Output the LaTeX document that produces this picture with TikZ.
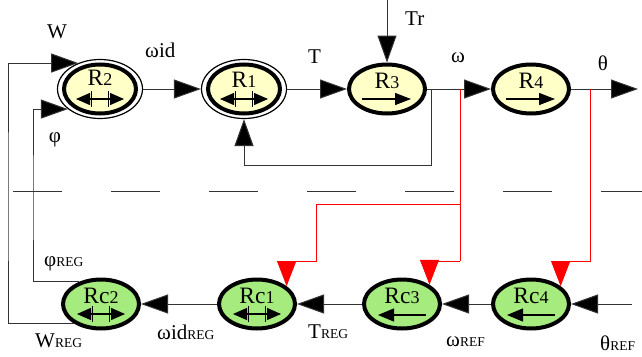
\documentclass[tikz,border=0pt]{standalone}
\usepackage{fontspec}
\setmainfont{Liberation Serif}
\usetikzlibrary{arrows.meta,shapes.geometric,calc}
\definecolor{yfill}{RGB}{255,255,200}
\definecolor{gfill}{RGB}{165,235,125}
\newcommand\lblf{\fontsize{21}{21}\selectfont}
\newcommand\sbf{\fontsize{13.5}{13.5}\selectfont}
\newcommand\rtf{\fontsize{23.5}{23.5}\selectfont}
\newcommand\rnf{\fontsize{18}{18}\selectfont}
\newcommand\symdbl[1]{%
  \draw[symln,{Triangle[length=14pt,width=12pt]}-{Triangle[length=14pt,width=12pt]}] ($(#1.center)+(-24,10)$) -- ($(#1.center)+(24,10)$);
  \draw[symln] ($(#1.center)+(-8.5,2)$) -- ($(#1.center)+(-8.5,18)$) ($(#1.center)+(8.5,2)$) -- ($(#1.center)+(8.5,18)$);}
\newcommand\symright[1]{%
  \draw[symln,-{Triangle[length=16pt,width=12pt]}] ($(#1.center)+(-25,10)$) -- ($(#1.center)+(24,10)$);}
\newcommand\symleft[1]{%
  \draw[symln,{Triangle[length=16pt,width=13pt]}-] ($(#1.center)+(-24,11)$) -- ($(#1.center)+(24,11)$);}
\begin{document}
\begin{tikzpicture}[x=1pt,y=-1pt,
  conn/.style={draw=black!80, line width=1pt, -{Triangle[length=27pt,width=19pt,fill=black]}},
  redconn/.style={draw=red, line width=1pt, -{Triangle[length=25pt,width=19pt,fill=red]}},
  redln/.style={draw=red, line width=1pt},
  symln/.style={draw=black, line width=1.3pt},
  dblring/.style={ellipse, draw=black, line width=1.2pt, fill=white, minimum width=85pt, minimum height=59pt, inner sep=0pt},
  sgl/.style={ellipse, draw=black, line width=4pt, minimum width=76pt, minimum height=49pt, inner sep=0pt},
  lbl/.style={inner sep=0pt, font=\lblf},
  rtxt/.style={inner sep=0pt, anchor=base, font=\rtf}]
\useasboundingbox (0,0) rectangle (642,356);
% separator
\draw[black!80, line width=1pt, dash pattern=on 49pt off 49pt] (13,191) -- (642,191);
% top row
\node[dblring] (R2) at (100,89) {};
\draw[line width=4pt, fill=yfill] (R2.center) ellipse [x radius=36pt, y radius=24.5pt];
\node[dblring] (R1) at (244,89) {};
\draw[line width=4pt, fill=yfill] (R1.center) ellipse [x radius=36pt, y radius=24.5pt];
\node[sgl, fill=yfill] (R3) at (387,89) {};
\node[sgl, fill=yfill] (R4) at (531,89) {};
% bottom row
\node[sgl, fill=gfill] (Rc2) at (101,304) {};
\node[sgl, fill=gfill] (Rc1) at (257,304) {};
\node[sgl, fill=gfill] (Rc3) at (402,304) {};
\node[sgl, fill=gfill] (Rc4) at (531,304) {};
% node texts
\node[rtxt] (tR2) at ($(R2.center)+(0,-4)$) {R{\rnf 2}};
\node[rtxt] (tR1) at ($(R1.center)+(0,-2)$) {R{\rnf 1}};
\node[rtxt] (tR3) at ($(R3.center)+(0,-1)$) {R{\rnf 3}};
\node[rtxt] (tR4) at ($(R4.center)+(0,-1)$) {R{\rnf 4}};
\node[rtxt] (tRc2) at ($(Rc2.center)+(0,-1)$) {Rc{\rnf 2}};
\node[rtxt] (tRc1) at ($(Rc1.center)+(0,-1)$) {Rc{\rnf 1}};
\node[rtxt] (tRc3) at ($(Rc3.center)+(0,-1)$) {Rc{\rnf 3}};
\node[rtxt] (tRc4) at ($(Rc4.center)+(0,-1)$) {Rc{\rnf 4}};
% node symbols
\symdbl{R2}
\symdbl{R1}
\symright{R3}
\symright{R4}
\symdbl{Rc2}
\symdbl{Rc1}
\symleft{Rc3}
\symleft{Rc4}
% coordinates
\coordinate (wl) at (8,200);
\coordinate (pl) at (33,200);
\coordinate (trin) at (387,0);
\coordinate (j1) at (431,89);
\coordinate (fbc) at (431,165);
\coordinate (j2) at (460,89);
\coordinate (ra) at (460,261);
\coordinate (rb1) at (460,204);
\coordinate (rb2) at (316,261);
\coordinate (j3) at (590,89);
\coordinate (rc) at (590,261);
\coordinate (thout) at (638,89);
\coordinate (thin) at (632,304);
% top connectors
\draw[conn] (Rc2.215) -| (wl) |- (R2.130);
\draw[conn] (Rc2.135) -| (pl) |- (R2.212);
\draw[conn] (R2) -- (R1);
\draw[conn] (R1) -- (R3);
\draw[conn] (trin) -- (R3);
\draw[conn] (R3) -- (R4);
\draw[conn] (j1) -- (fbc) -| (R1.south);
\draw[conn] (R4) -- (thout);
% red connectors
\draw[redln] (j2) -- (ra);
\draw[redconn] (ra) -| (Rc3.35);
\draw[redconn] (rb1) -| (rb2) -| (Rc1.31);
\draw[redconn] (j3) -- (rc) -| (Rc4.31);
% bottom connectors
\draw[conn] (thin) -- (Rc4);
\draw[conn] (Rc4) -- (Rc3);
\draw[conn] (Rc3) -- (Rc1);
\draw[conn] (Rc1) -- (Rc2);
% labels
\node[lbl, anchor=base west] (lW) at (47,38) {W};
\node[lbl, anchor=base west] (lwid) at (145,57) {ωid};
\node[lbl] (lphi) at (55,140) {φ};
\node[lbl, anchor=base west] (lT) at (308,63) {T};
\node[lbl, anchor=base west] (lTr) at (405,25) {Tr};
\node[lbl] (lom) at (458,58) {ω};
\node[lbl] (lth) at (603,63) {θ};
\node[lbl, anchor=base west] (lphireg) at (44,266) {φ{\sbf REG}};
\node[lbl, anchor=base west] (lWreg) at (35,347) {W{\sbf REG}};
\node[lbl, anchor=base west] (lwidreg) at (157,339) {ωid{\sbf REG}};
\node[lbl, anchor=base west] (lTreg) at (308,338) {T{\sbf REG}};
\node[lbl, anchor=base west] (lomref) at (446,346) {ω{\sbf REF}};
\node[lbl, anchor=base west] (lthref) at (600,350) {θ{\sbf REF}};
\end{tikzpicture}
\end{document}
